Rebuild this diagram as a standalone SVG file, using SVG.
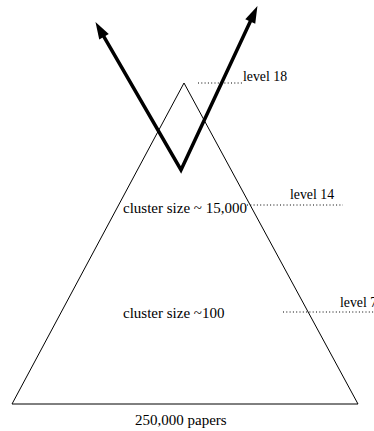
<svg xmlns="http://www.w3.org/2000/svg" width="374" height="431" viewBox="0 0 374 431">
<style>
text{font-family:"Liberation Serif","Times New Roman",serif;font-size:15px;fill:#000}
text.lvl{font-size:13.8px}
.dot{stroke:#000;stroke-width:1;stroke-dasharray:1 2.3;fill:none}
.tri{stroke:#000;stroke-width:1;fill:none}
.arrow{stroke:#000;stroke-width:3.5;fill:none;stroke-linejoin:miter}
</style>
<defs>
<marker id="head" markerUnits="userSpaceOnUse" markerWidth="20" markerHeight="14" viewBox="0 -7 18 14" refX="2" refY="0" orient="auto-start-reverse">
<path d="M0,-5.5 L17,0 L0,5.5 z" fill="#000"/>
</marker>
</defs>
<rect width="374" height="431" fill="#fff"/>
<g id="pyramid">
<polygon class="tri" points="184,83 12,404 358,404"/>
</g>
<g id="level18">
<line class="dot" x1="198" y1="83" x2="244" y2="83"/>
<text class="lvl" x="243" y="81">level 18</text>
</g>
<g id="level14">
<line class="dot" x1="247" y1="205" x2="343" y2="205"/>
<text class="lvl" x="290" y="199">level 14</text>
<text x="123" y="213">cluster size ~ 15,000</text>
</g>
<g id="level7">
<line class="dot" x1="283" y1="312" x2="374" y2="312"/>
<text class="lvl" x="340" y="307">level 7</text>
<text x="123" y="318">cluster size ~100</text>
</g>
<g id="base">
<text x="135" y="425">250,000 papers</text>
</g>
<g id="connectors">
<path class="arrow" d="M103,35.1 L181,170 L251.1,19.7" marker-start="url(#head)" marker-end="url(#head)"/>
</g>
</svg>
